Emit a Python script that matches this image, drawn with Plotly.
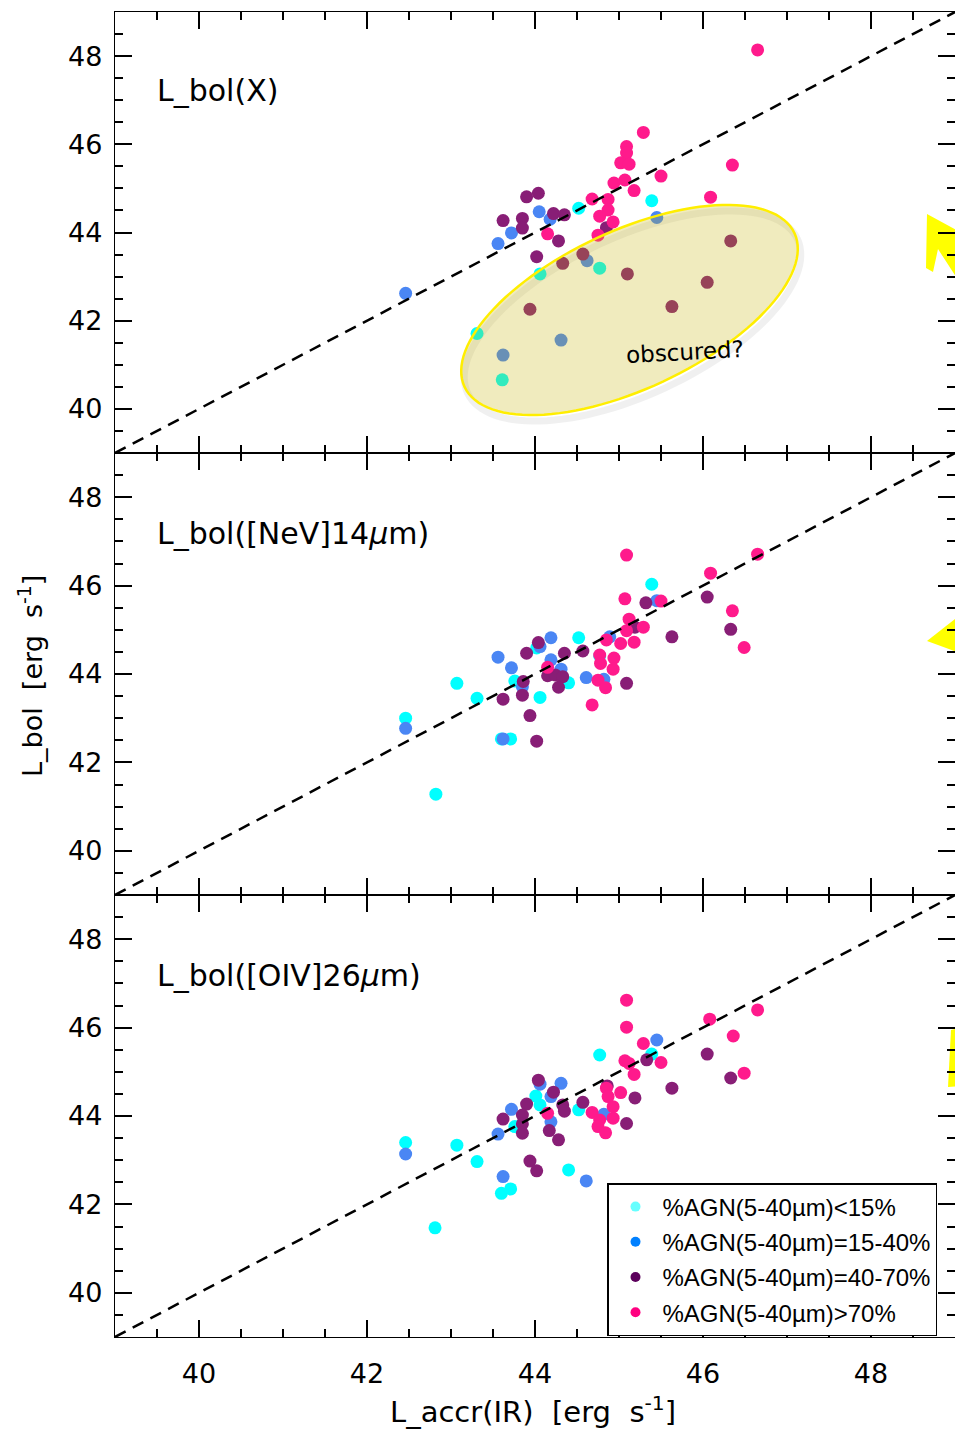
import numpy as np
import plotly.graph_objects as go
from plotly.subplots import make_subplots

# ---------------- data ----------------
classes = ["%AGN(5-40µm)<15%", "%AGN(5-40µm)=15-40%", "%AGN(5-40µm)=40-70%", "%AGN(5-40µm)>70%"]
panel_labels = ["L_bol(X)", "L_bol([NeV]14<i>µ</i>m)", "L_bol([OIV]26<i>µ</i>m)"]
tick_vals = [40, 42, 44, 46, 48]
one_to_one = [39, 49]

# top panel: L_bol(X)
top_cyan_x = [44.52, 45.39, 44.06, 43.31, 44.77, 43.61]
top_cyan_y = [44.55, 44.72, 43.06, 41.71, 43.19, 40.66]
top_blue_x = [44.05, 43.72, 43.56, 44.18, 45.45, 42.46, 44.62, 44.31, 43.62]
top_blue_y = [44.47, 43.99, 43.75, 44.30, 44.34, 42.62, 43.36, 41.56, 41.22]
top_purple_x = [43.90, 44.04, 43.62, 43.85, 43.85, 44.22, 44.35, 44.28, 44.02, 44.33, 44.57, 44.85,
                45.10, 46.33, 46.05, 45.63, 43.94]
top_purple_y = [44.81, 44.89, 44.27, 44.32, 44.10, 44.43, 44.40, 43.81, 43.45, 43.30, 43.51, 44.11,
                43.06, 43.81, 42.87, 42.32, 42.26]
top_pink_x = [46.65, 45.29, 45.09, 45.09, 45.02, 45.12, 46.35, 45.50, 45.07, 44.94, 45.18, 46.09,
              44.68, 44.87, 44.87, 44.77, 44.93, 44.75, 44.15]
top_pink_y = [48.14, 46.27, 45.95, 45.80, 45.58, 45.55, 45.53, 45.28, 45.19, 45.12, 44.95, 44.80,
              44.76, 44.75, 44.51, 44.37, 44.24, 43.94, 43.97]

# middle panel: L_bol([NeV]14um)
mid_cyan_x = [45.39, 44.52, 44.02, 44.77, 44.40, 43.76, 44.06, 43.31, 43.07, 42.46, 43.71, 43.60, 42.82]
mid_cyan_y = [46.03, 44.82, 44.59, 44.41, 43.80, 43.84, 43.47, 43.45, 43.79, 43.00, 42.53, 42.53, 41.28]
mid_blue_x = [44.19, 44.06, 43.56, 43.72, 44.19, 44.31, 44.61, 44.82, 44.89, 45.45, 42.46, 43.62, 43.85]
mid_blue_y = [44.82, 44.62, 44.38, 44.14, 44.32, 44.11, 43.92, 43.88, 44.84, 45.66, 42.77, 42.53, 43.71]
mid_purple_x = [45.32, 46.05, 45.63, 46.33, 44.57, 44.35, 44.04, 43.90, 44.15, 44.24, 44.33, 44.28,
                43.86, 43.85, 43.62, 45.09, 43.94, 44.02, 45.19]
mid_purple_y = [45.61, 45.74, 44.84, 45.01, 44.52, 44.47, 44.71, 44.47, 43.96, 43.98, 43.94, 43.70,
                43.83, 43.52, 43.43, 43.79, 43.06, 42.48, 45.06]
mid_pink_x = [45.09, 46.65, 46.09, 45.07, 45.50, 45.12, 46.35, 45.29, 45.09, 44.85, 45.02, 45.18,
              46.49, 44.77, 44.94, 44.78, 44.93, 44.15, 44.75, 44.84, 44.68]
mid_pink_y = [46.69, 46.71, 46.28, 45.70, 45.65, 45.24, 45.43, 45.06, 44.98, 44.77, 44.69, 44.72,
              44.60, 44.43, 44.36, 44.24, 44.11, 44.15, 43.86, 43.69, 43.30]

# bottom panel: L_bol([OIV]26um)
bot_cyan_x = [44.77, 45.39, 44.01, 44.06, 44.52, 43.76, 43.07, 42.46, 43.31, 44.40, 43.71, 43.60, 42.81]
bot_cyan_y = [45.38, 45.40, 44.45, 44.25, 44.14, 43.76, 43.34, 43.40, 42.97, 42.78, 42.35, 42.25, 41.47]
bot_blue_x = [45.45, 44.06, 44.31, 44.19, 43.72, 44.19, 44.82, 43.56, 42.46, 43.62, 44.61]
bot_blue_y = [45.72, 44.72, 44.74, 44.44, 44.15, 43.87, 44.04, 43.59, 43.14, 42.63, 42.53]
bot_purple_x = [45.33, 44.86, 45.19, 45.09, 45.63, 44.57, 44.33, 44.35, 44.04, 44.22, 43.90, 43.85,
                43.62, 43.85, 43.85, 44.17, 44.28, 43.94, 44.02, 46.05, 46.33]
bot_purple_y = [45.27, 44.68, 44.41, 43.83, 44.63, 44.31, 44.25, 44.11, 44.81, 44.54, 44.27, 44.02,
                43.93, 43.82, 43.61, 43.67, 43.46, 42.98, 42.76, 45.40, 44.86]
bot_pink_x = [45.09, 45.09, 45.29, 45.50, 45.07, 45.12, 45.18, 45.02, 44.85, 44.87, 44.93, 44.93,
              44.68, 44.77, 44.75, 44.84, 44.15, 46.08, 46.36, 46.49, 46.65]
bot_pink_y = [46.62, 46.01, 45.64, 45.21, 45.25, 45.19, 44.94, 44.53, 44.63, 44.44, 44.21, 43.95,
              44.08, 43.91, 43.76, 43.62, 44.06, 46.19, 45.81, 44.97, 46.40]

panels = [
    [(top_cyan_x, top_cyan_y), (top_blue_x, top_blue_y), (top_purple_x, top_purple_y), (top_pink_x, top_pink_y)],
    [(mid_cyan_x, mid_cyan_y), (mid_blue_x, mid_blue_y), (mid_purple_x, mid_purple_y), (mid_pink_x, mid_pink_y)],
    [(bot_cyan_x, bot_cyan_y), (bot_blue_x, bot_blue_y), (bot_purple_x, bot_purple_y), (bot_pink_x, bot_pink_y)],
]

# ---------------- style ----------------
W, H = 955, 1430
ML, MR, MT, MB = 115, 0, 12, 93
PW, PH = W - ML - MR, H - MT - MB
point_colors = ["#00FFFF", "#4A86F4", "#881E76", "#FF1A8C"]
legend_colors = ["#66FFFF", "#0080FF", "#5C005C", "#FF0080"]
tick_font = dict(family="DejaVu Sans", size=27, color="black")


def px2paper(px, py):
    return (px - ML) / PW, (MT + PH - py) / PH


fig = make_subplots(rows=3, cols=1, shared_xaxes=False, vertical_spacing=0)

for r, series in enumerate(panels, start=1):
    for (xs, ys), col in zip(series, point_colors):
        fig.add_trace(go.Scatter(x=xs, y=ys, mode="markers",
                                 marker=dict(size=13, color=col, line=dict(width=0)),
                                 showlegend=False, hoverinfo="skip"), row=r, col=1)
    fig.add_trace(go.Scatter(x=one_to_one, y=one_to_one, mode="lines",
                             line=dict(color="black", width=2.5, dash="12px,8px"),
                             showlegend=False, hoverinfo="skip"), row=r, col=1)

# legend-only entries
for i, (name, col) in enumerate(zip(classes, legend_colors)):
    fig.add_trace(go.Scatter(x=[None], y=[None], mode="markers", name=name,
                             legendgroup=f"g{i}",
                             marker=dict(size=10, color=col)), row=3, col=1)

# panel boundaries at whole pixels (y = 453 and 895)
b1 = (MT + PH - 895) / PH
b2 = (MT + PH - 453) / PH
domains = [[b2, 1.0], [b1, b2], [0.0, b1]]
axis_common = dict(range=[39, 49], tickvals=tick_vals, ticks="inside", ticklen=17, tickwidth=1.5,
                   tickcolor="black", showline=True, linecolor="black", linewidth=1.3,
                   mirror="ticks", showgrid=False, zeroline=False, tickfont=tick_font,
                   minor=dict(ticks="inside", ticklen=8, tickwidth=1.5, tickcolor="black",
                              dtick=0.5, tick0=39, showgrid=False))
for r in range(1, 4):
    xa = "xaxis" if r == 1 else f"xaxis{r}"
    ya = "yaxis" if r == 1 else f"yaxis{r}"
    fig.layout[xa].update(**axis_common, showticklabels=(r == 3), ticklabelstandoff=12)
    fig.layout[ya].update(**axis_common, domain=domains[r - 1], ticklabelstandoff=6)

# panel labels
label_py = [90, 533, 975]
for lab, py in zip(panel_labels, label_py):
    xp, yp = px2paper(155, py)
    fig.add_annotation(x=xp, y=yp, xref="paper", yref="paper", text=lab, showarrow=False,
                       xanchor="left", yanchor="middle",
                       font=dict(family="DejaVu Sans", size=30, color="black"))

# axis titles
xp, yp = px2paper(30, 676)
fig.add_annotation(x=xp, y=yp, xref="paper", yref="paper", text="L_bol  [erg  s<sup>-1</sup>]",
                   textangle=-90, showarrow=False, xanchor="center", yanchor="middle",
                   font=dict(family="DejaVu Sans", size=27, color="black"))
xp, yp = px2paper(533, 1410)
fig.add_annotation(x=xp, y=yp, xref="paper", yref="paper", text="L_accr(IR)  [erg  s<sup>-1</sup>]",
                   showarrow=False, xanchor="center", yanchor="middle",
                   font=dict(family="DejaVu Sans", size=29, color="black"))

# "obscured?" ellipse on the top panel (rotated ellipse built in pixel space)
cx_px, cy_px, a_px, b_px, ang = 629.5, 310.0, 182.0, 79.0, np.deg2rad(25)
t = np.linspace(0, 2 * np.pi, 121)
ex = cx_px + a_px * np.cos(t) * np.cos(ang) - b_px * np.sin(t) * np.sin(ang)
ey = cy_px - (a_px * np.cos(t) * np.sin(ang) + b_px * np.sin(t) * np.cos(ang))
x_scale = PW / 10.0
y_scale = (PH * (domains[0][1] - domains[0][0])) / 10.0
edx = 39 + (ex - ML) / x_scale
edy = 49 - (ey - MT) / y_scale
path = "M " + " L ".join(f"{a:.4f},{b:.4f}" for a, b in zip(edx, edy)) + " Z"
# soft shadow
sdx = 39 + (ex + 3 - ML) / x_scale
sdy = 49 - (ey + 6 - MT) / y_scale
spath = "M " + " L ".join(f"{a:.4f},{b:.4f}" for a, b in zip(sdx, sdy)) + " Z"
fig.add_shape(type="path", path=spath, xref="x", yref="y", layer="below",
              line=dict(color="rgba(0,0,0,0.06)", width=7), fillcolor="rgba(0,0,0,0)")
fig.add_shape(type="path", path=path, xref="x", yref="y", layer="above",
              line=dict(color="#FFEE00", width=2.5), fillcolor="rgba(196,176,0,0.255)")
fig.add_annotation(x=45.79, y=41.29, xref="x", yref="y", text="obscured?", showarrow=False,
                   textangle=-3, font=dict(family="DejaVu Sans", size=23, color="black"))

# yellow arrows cut off at the right edge
arrow_polys = [
    [(927, 214), (960, 232), (960, 283), (938, 249), (933, 272), (926, 268)],
    [(927, 641), (960, 615), (960, 653)],
    [(951, 1030), (960, 1028), (960, 1086), (948, 1087)],
]
for poly in arrow_polys:
    pts = [px2paper(px, py) for px, py in poly]
    p = "M " + " L ".join(f"{a:.5f},{b:.5f}" for a, b in pts) + " Z"
    fig.add_shape(type="path", path=p, xref="paper", yref="paper", layer="below",
                  line=dict(width=0), fillcolor="#FFFF00")

lx, ly = px2paper(607, 1183)
fig.update_layout(
    width=W, height=H,
    margin=dict(l=ML, r=MR, t=MT, b=MB),
    plot_bgcolor="white", paper_bgcolor="white",
    legend=dict(x=lx, y=ly, xanchor="left", yanchor="top", bgcolor="white",
                bordercolor="black", borderwidth=1.5, traceorder="grouped", tracegroupgap=1,
                itemwidth=44,
                font=dict(family="Liberation Sans", size=24, color="black")),
)

fig.write_html("out.html")
